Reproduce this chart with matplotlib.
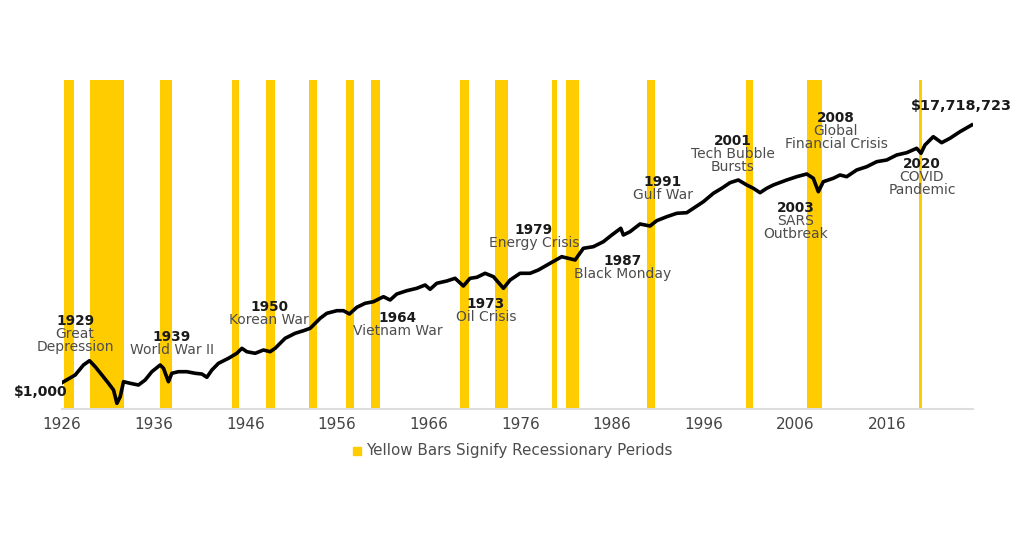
import matplotlib
matplotlib.use("Agg")
import matplotlib.pyplot as plt

plt.rcParams['font.family'] = ['DejaVu Sans']

# Growth of $1,000 (log scale)
years = [1926.59, 1928.04, 1928.94, 1929.60, 1930.22, 1930.95, 1931.67, 1932.22, 1932.59, 1932.95,
         1933.31, 1934.04, 1934.94, 1935.67, 1936.40, 1937.31, 1937.67, 1938.21, 1938.58, 1939.30,
         1940.22, 1941.13, 1941.86, 1942.40, 1942.95, 1943.67, 1944.76, 1945.67, 1946.22, 1946.76,
         1947.67, 1948.57, 1949.30, 1949.85, 1950.94, 1952.03, 1952.94, 1953.67, 1954.76, 1955.49,
         1956.58, 1957.30, 1957.95, 1958.76, 1959.66, 1960.57, 1961.66, 1962.39, 1963.12, 1964.21,
         1965.30, 1966.21, 1966.75, 1967.48, 1968.57, 1969.48, 1970.38, 1971.11, 1971.85, 1972.75,
         1973.66, 1974.75, 1975.48, 1976.57, 1977.66, 1978.56, 1979.84, 1981.11, 1982.57, 1983.47,
         1984.56, 1985.65, 1986.57, 1987.55, 1987.83, 1988.56, 1989.65, 1990.74, 1991.47, 1992.57,
         1993.66, 1994.75, 1995.47, 1996.56, 1997.65, 1998.56, 1999.47, 2000.37, 2001.29, 2002.01,
         2002.74, 2003.47, 2004.19, 2005.65, 2006.74, 2007.83, 2008.55, 2009.10, 2009.64, 2010.73,
         2011.46, 2012.19, 2013.28, 2014.38, 2015.47, 2016.56, 2017.65, 2018.74, 2019.83, 2020.30,
         2020.73, 2021.64, 2022.55, 2023.46, 2024.55, 2025.83]
values = [1000, 1340, 1957, 2305, 1835, 1340, 977, 758, 457, 588,
          1039, 977, 916, 1108, 1518, 1957, 1727, 1039, 1429, 1518,
          1518, 1429, 1391, 1228, 1620, 2088, 2525, 3053, 3690, 3243,
          3053, 3460, 3243, 3690, 5395, 6522, 7196, 7884, 11530, 13940,
          15380, 15380, 13570, 17500, 20370, 21640, 26170, 23090, 28990, 32860,
          35980, 40780, 34650, 43510, 47490, 52600, 39280, 52600, 54650, 63620,
          55910, 35980, 49320, 63620, 63620, 72100, 92970, 119400, 105400, 164300,
          174600, 211100, 272200, 351100, 272200, 308500, 413200, 383000, 468400, 545200,
          620300, 634600, 749900, 963400, 1325000, 1602000, 1982000, 2195000, 1816000, 1602000,
          1356000, 1602000, 1816000, 2195000, 2488000, 2757000, 2342000, 1408000, 2058000, 2342000,
          2655000, 2488000, 3209000, 3637000, 4398000, 4692000, 5672000, 6189000, 7313000, 6049000,
          8286000, 11360000, 9045000, 10690000, 13730000, 17718723]

# Recession periods (start, end)
rec_start = [1926.77, 1929.60, 1937.31, 1945.13, 1948.84, 1953.52, 1957.56, 1960.29,
             1970.02, 1973.84, 1980.02, 1981.55, 1990.45, 2001.21, 2007.90, 2020.11]
rec_end = [1927.93, 1933.31, 1938.58, 1945.92, 1949.85, 1954.46, 1958.46, 1961.30,
           1970.97, 1975.29, 1980.63, 1983.00, 1991.32, 2002.01, 2009.53, 2020.44]

tick_years = [1926, 1936, 1946, 1956, 1966, 1976, 1986, 1996, 2006, 2016]
tick_labels = [str(y) for y in tick_years]

# Event annotations: (year, description lines)
events = [
    ("1929", ["Great", "Depression"]),
    ("1939", ["World War II"]),
    ("1950", ["Korean War"]),
    ("1964", ["Vietnam War"]),
    ("1973", ["Oil Crisis"]),
    ("1979", ["Energy Crisis"]),
    ("1987", ["Black Monday"]),
    ("1991", ["Gulf War"]),
    ("2001", ["Tech Bubble", "Bursts"]),
    ("2003", ["SARS", "Outbreak"]),
    ("2008", ["Global", "Financial Crisis"]),
    ("2020", ["COVID", "Pandemic"]),
]
# layout (pixel centre x, pixel y of first line)
event_pos = [(75, 321), (172, 337), (269, 307), (398, 318), (486, 304), (534, 230),
             (623, 261), (663, 182), (733, 141), (796, 208), (836, 118), (922, 164)]

W, H = 1024, 536
fig = plt.figure(figsize=(W / 100, H / 100), dpi=100)
fig.patch.set_facecolor('white')
ax = fig.add_axes([62 / W, 1 - 409 / H, (973 - 62) / W, (409 - 80) / H])

yellow = '#FFCC00'
for s, e in zip(rec_start, rec_end):
    ax.axvspan(s, e, color=yellow, lw=0, zorder=1)

ax.plot(years, values, color='black', lw=2.6, solid_joinstyle='round', zorder=3)

ax.set_yscale('log')
ax.set_xlim(1926.62, 2025.97)
ax.set_ylim(368.5, 9.77e7)

ax.set_xticks([y + 0.6 for y in tick_years])
ax.set_xticklabels(tick_labels, fontsize=11, color='#444444')
ax.tick_params(axis='x', length=0, pad=6)
ax.set_yticks([])
ax.yaxis.set_minor_locator(matplotlib.ticker.NullLocator())
for sp in ['top', 'left', 'right']:
    ax.spines[sp].set_visible(False)
ax.spines['bottom'].set_color('#dddddd')
ax.spines['bottom'].set_linewidth(1.5)
ax.set_facecolor('none')

lh = 12.8
for (yr, lines), (px, py) in zip(events, event_pos):
    fig.text(px / W, 1 - py / H, yr, ha='center', va='center', fontsize=9.8,
             fontweight='bold', color='#1a1a1a')
    for i, ln in enumerate(lines):
        fig.text(px / W, 1 - (py + lh * (i + 1)) / H, ln, ha='center', va='center',
                 fontsize=10, color='#4d4d4d')

fig.text(41 / W, 1 - 392 / H, "$1,000", ha='center', va='center', fontsize=10,
         fontweight='bold', color='#1a1a1a')
fig.text(961 / W, 1 - 106 / H, "$17,718,723", ha='center', va='center', fontsize=10.4,
         fontweight='bold', color='#1a1a1a')

# legend
fig.patches.append(matplotlib.patches.Rectangle((353 / W, 1 - 455 / H), 8 / W, 8 / H,
                                                transform=fig.transFigure, color=yellow))
fig.text(366 / W, 1 - 451 / H, "Yellow Bars Signify Recessionary Periods", ha='left',
         va='center', fontsize=10.9, color='#4d4d4d')

fig.savefig('out.png', dpi=100, facecolor='white')
